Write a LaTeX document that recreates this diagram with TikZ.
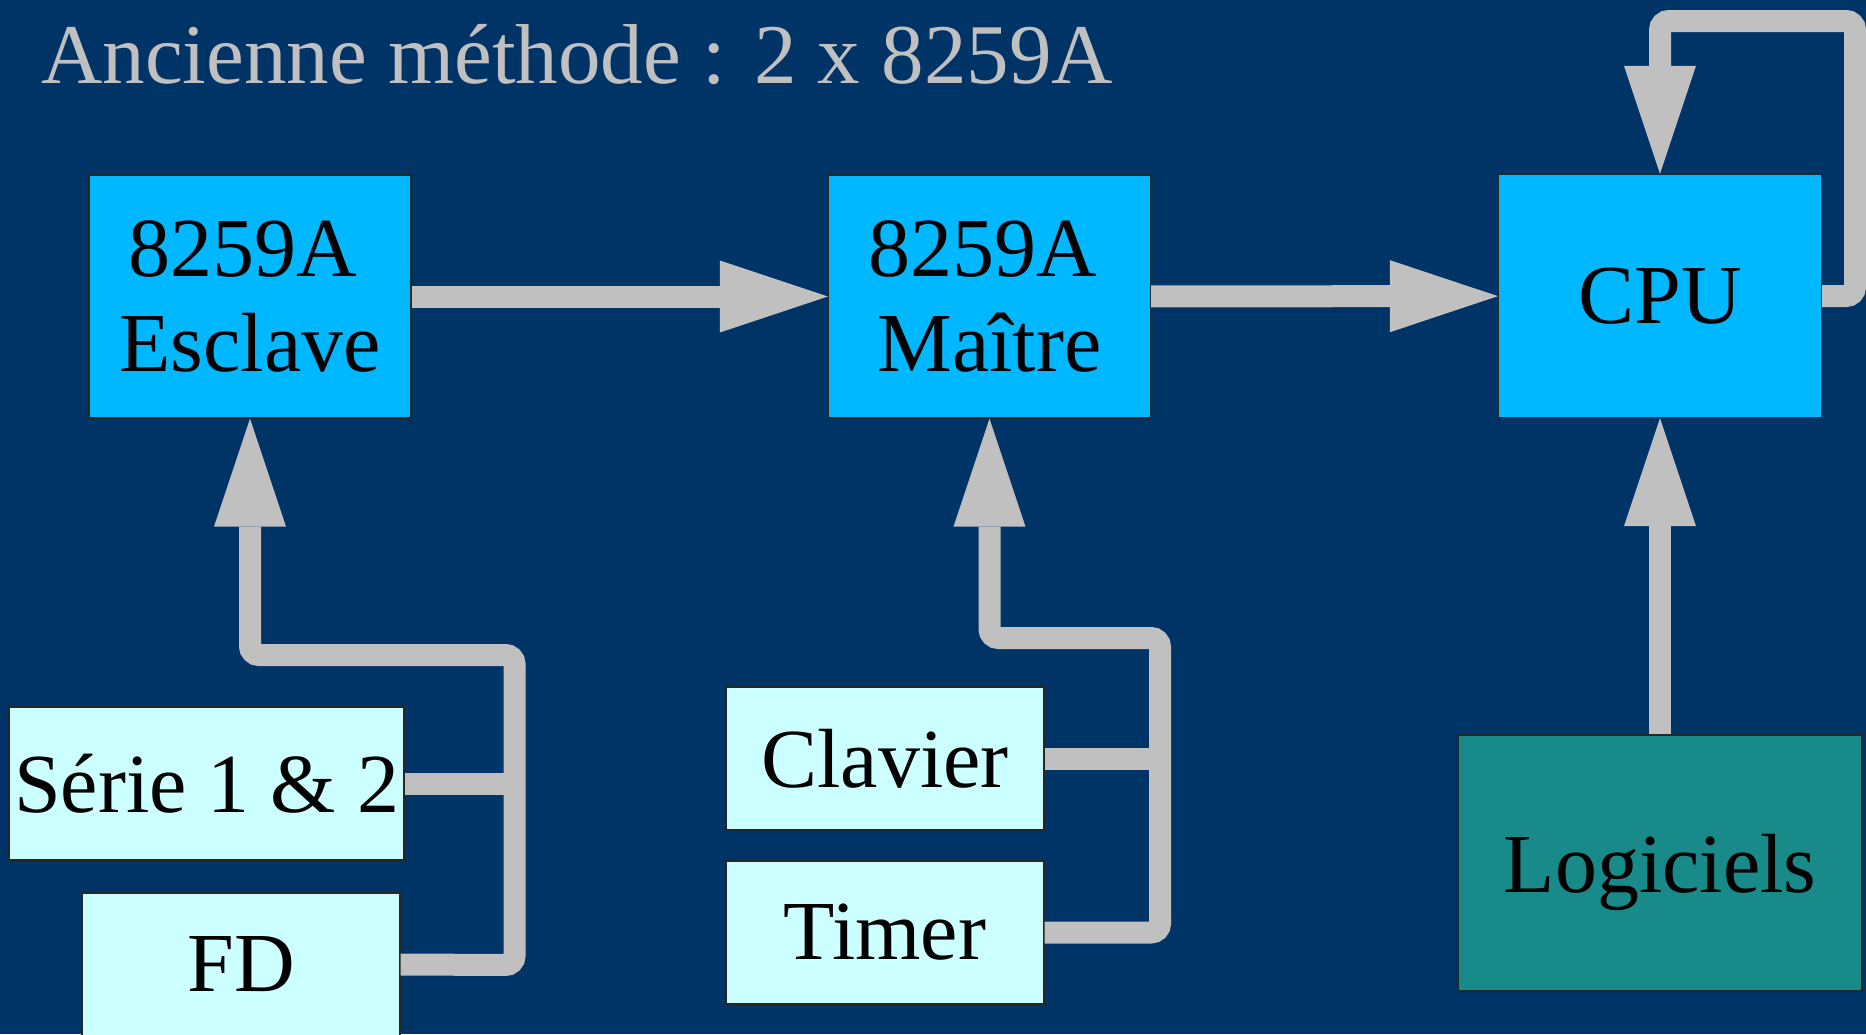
\documentclass[tikz,border=0pt]{standalone}
\usepackage{fontspec}
\setmainfont{Liberation Serif}
\usetikzlibrary{arrows.meta}

\definecolor{slidebg}{HTML}{003366}
\definecolor{chipblue}{HTML}{00B8FF}
\definecolor{devcyan}{HTML}{CCFFFF}
\definecolor{softteal}{HTML}{188A8A}
\definecolor{wiregray}{HTML}{C0C0C0}

\tikzset{
  box/.style={draw=black!85, line width=1.2pt, inner sep=0pt, align=center,
              font=\fontsize{84}{95}\selectfont, text=black},
  chip/.style={box, fill=chipblue, minimum width=322pt, minimum height=243pt},
  device/.style={box, fill=devcyan, minimum height=143pt},
  wire/.style={draw=wiregray, line width=22pt, rounded corners=9pt},
  flow/.style={wire, -{Triangle[width=72pt,length=108pt,line width=0pt]}},
}

\begin{document}
\begin{tikzpicture}[x=1pt, y=-1pt]
  \fill[slidebg] (0,0) rectangle (1866,1034);
  \useasboundingbox (0,0) rectangle (1866,1034);

  % heading
  \node[anchor=base west, inner sep=0pt, text=wiregray,
        font=\fontsize{85}{95}\selectfont] (title) at (41,83)
        {Ancienne méthode : 2 x 8259A};

  % interrupt controllers and processor
  \node[chip] (esc) at (250,296.5) {8259A\kern14pt\\Esclave};
  \node[chip] (mai) at (989.5,296.5) {8259A\kern14pt\\Maître};
  \node[chip, minimum width=323pt] (cpu) at (1660,296) {CPU};

  % peripherals
  \node[device, minimum width=395pt, minimum height=153pt] (ser) at (206.5,783.5)
        {Série 1 \& 2};
  \node[device, minimum width=318pt] (fd) at (241,964.5) {FD};
  \node[device, minimum width=318pt] (cla) at (885,758.5) {Clavier};
  \node[device, minimum width=318pt] (tim) at (885,932.5) {Timer};

  % software
  \node[box, fill=softteal, minimum width=404pt, minimum height=256pt,
        text depth=0pt] (log) at (1660,863) {Logiciels};

  % bus corners
  \coordinate (busLlow) at (514.5,965);
  \coordinate (busLtop) at (514.5,655);
  \coordinate (busRlow) at (1160,932.5);
  \coordinate (busRtop) at (1160,638);
  \coordinate (loopA) at (1855,296);
  \coordinate (loopB) at (1855,21);

  % cascade path
  \draw[flow] (esc) -- (mai);
  \draw[flow] (mai) -- (cpu);

  % processor feedback loop
  \draw[flow] (cpu.east) -- (loopA) -- (loopB) -- (loopB -| cpu.north) -- (cpu.north);

  % software requests
  \draw[flow] (log.north) -- (cpu.south);

  % slave controller inputs
  \draw[flow] (fd.east) -- (busLlow) -- (busLtop) -- (busLtop -| esc.south) -- (esc.south);
  \draw[wire] (ser.east) -- (ser.east -| busLlow);

  % master controller inputs
  \draw[flow] (tim.east) -- (busRlow) -- (busRtop) -- (busRtop -| mai.south) -- (mai.south);
  \draw[wire] (cla.east) -- (cla.east -| busRlow);
\end{tikzpicture}
\end{document}
